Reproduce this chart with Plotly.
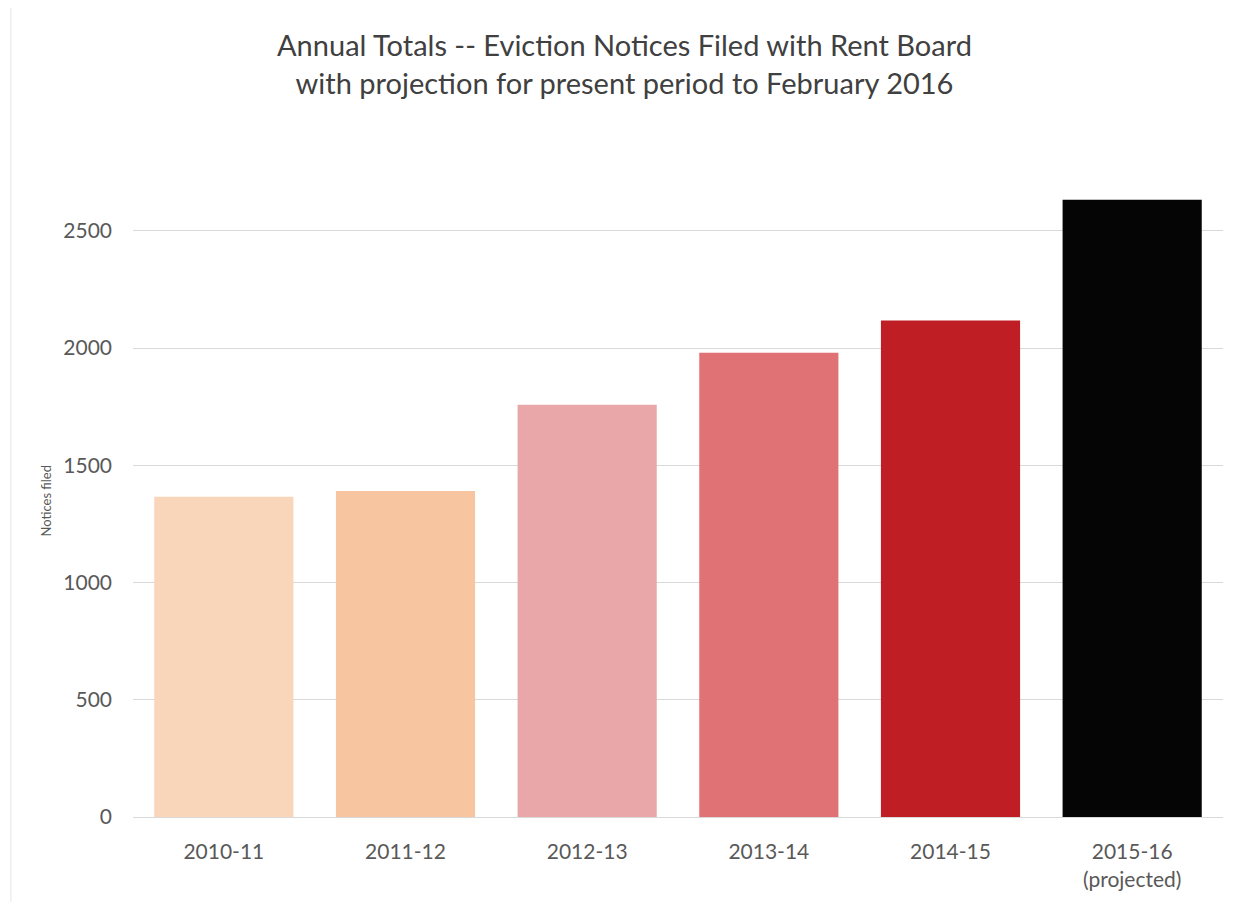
#!/usr/bin/env python3
"""
Annual totals of eviction notices filed with the Rent Board
"""

import plotly.graph_objects as go

# Data
periods = ["2010-11", "2011-12", "2012-13", "2013-14", "2014-15", "2015-16<br>(projected)"]
notices = [1366, 1391, 1758, 1980, 2118, 2633]
bar_colors = ["#F9D6BA", "#F7C6A0", "#E9A7AA", "#E07276", "#BE1E24", "#050505"]
y_ticks = [0, 500, 1000, 1500, 2000, 2500]

FONT = "Lato, 'Open Sans', sans-serif"

fig = go.Figure()

fig.add_trace(go.Bar(
    x=periods,
    y=notices,
    marker=dict(color=bar_colors, line=dict(width=0)),
    showlegend=False
))

# page body adds 8px margin, so the figure is a bit smaller than the window
fig.update_layout(
    width=1233,
    height=894,
    paper_bgcolor="white",
    plot_bgcolor="white",
    bargap=0.234,
    font=dict(family=FONT, color="#595959"),
    margin=dict(l=125, r=18, t=176, b=85),
    title=dict(
        text="Annual Totals -- Eviction Notices Filed with Rent Board<br>with projection for present period to February 2016",
        x=0.5,
        xanchor="center",
        y=0.946,
        yanchor="top",
        font=dict(family=FONT, size=29, color="#404040")
    ),
    xaxis=dict(
        type="category",
        automargin=False,
        showgrid=False,
        showline=True,
        linecolor="#D9D9D9",
        linewidth=1,
        ticks="",
        ticklabelstandoff=16,
        tickfont=dict(size=21, color="#595959")
    ),
    yaxis=dict(
        range=[0, 2700],
        automargin=False,
        tickvals=y_ticks,
        showgrid=True,
        gridcolor="#D9D9D9",
        gridwidth=1,
        zeroline=False,
        ticks="",
        ticklabelstandoff=20,
        tickfont=dict(size=21, color="#595959")
    )
)

# y axis title placed by hand, it sits close to the frame edge
fig.add_annotation(
    text="Notices filed",
    xref="paper", yref="paper",
    x=-0.0807, y=0.5,
    xanchor="center", yanchor="middle",
    textangle=-90,
    showarrow=False,
    font=dict(family=FONT, size=13, color="#595959")
)

# faint left edge of the chart frame
fig.add_shape(type="line", xref="paper", yref="paper",
              x0=-0.112, x1=-0.112, y0=-0.2, y1=1.3,
              line=dict(color="#E6E6E6", width=1))

fig.write_html("out.html")
